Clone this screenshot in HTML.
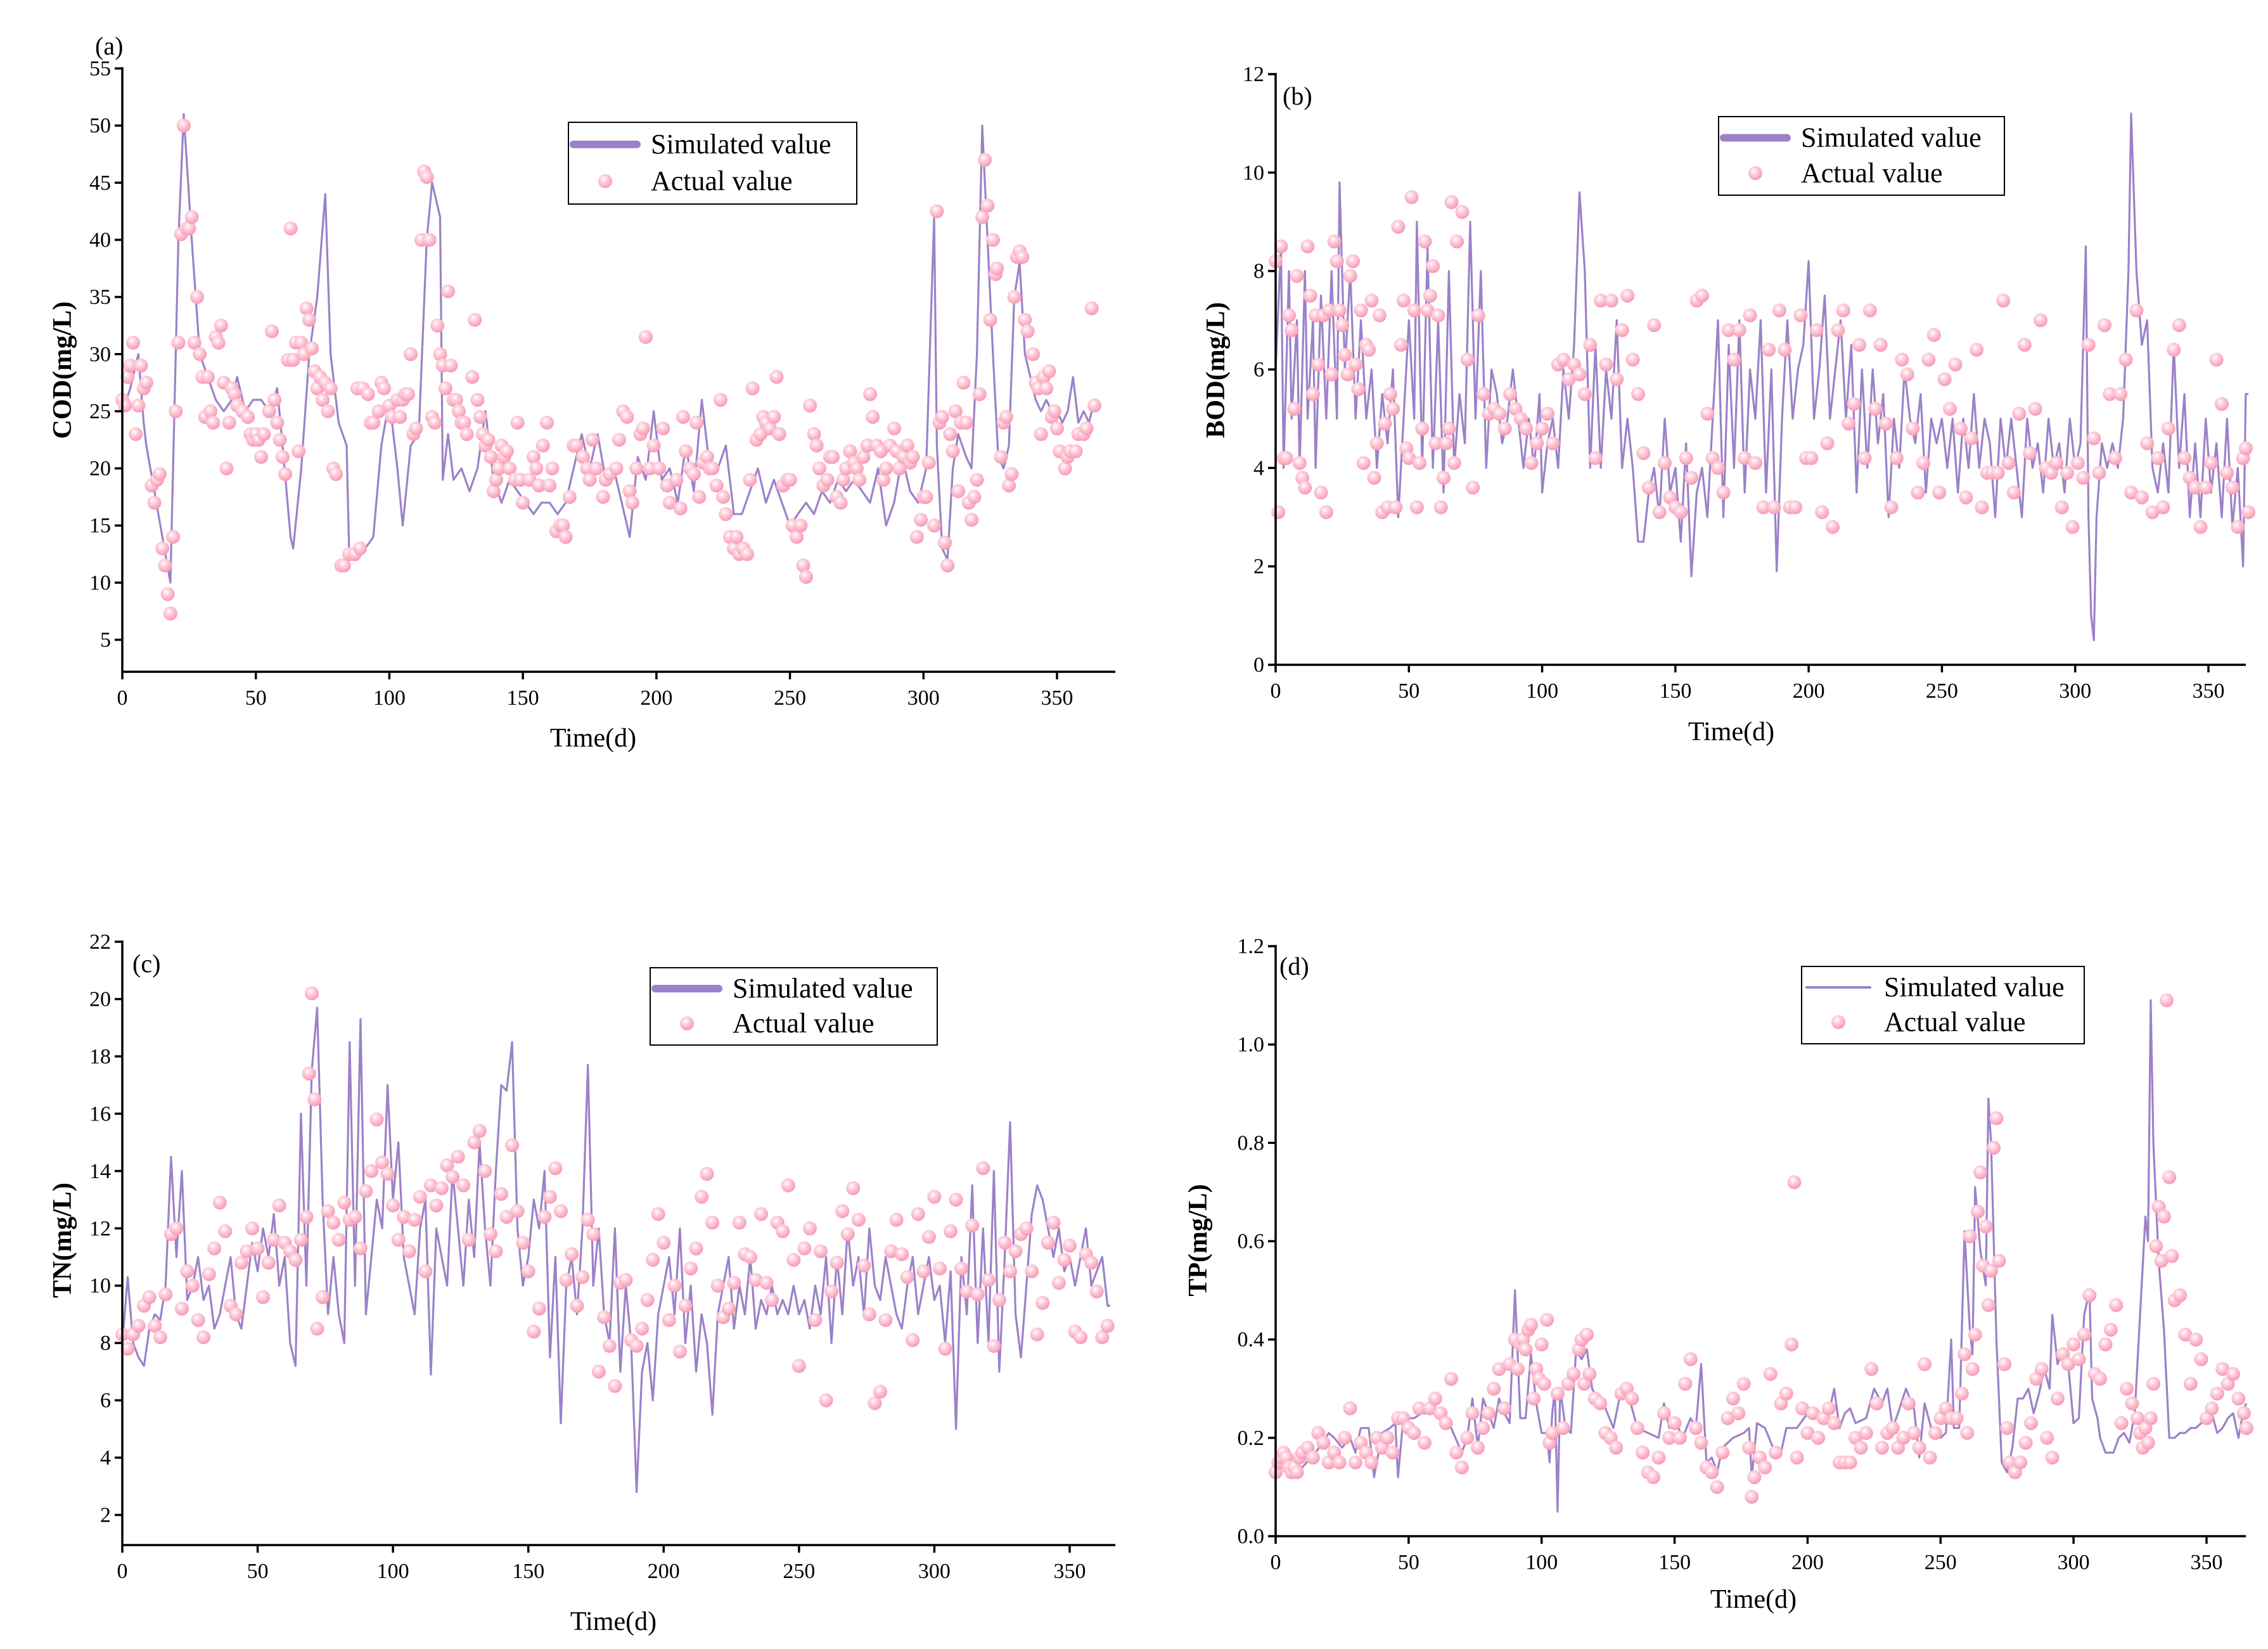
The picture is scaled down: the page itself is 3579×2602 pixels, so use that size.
<!DOCTYPE html>
<html><head><meta charset="utf-8"><style>
html,body{margin:0;padding:0;background:#fff}
svg{display:block}
text{font-family:"Liberation Serif",serif;fill:#000}
</style></head><body>
<svg id="fig" width="3579" height="2602" viewBox="0 0 3579 2602" xmlns="http://www.w3.org/2000/svg">
<defs>
<radialGradient id="pt" cx="0.4" cy="0.35" r="0.65">
<stop offset="0" stop-color="#ffffff"/><stop offset="0.35" stop-color="#ffd3df"/><stop offset="1" stop-color="#f79ab4"/>
</radialGradient>
</defs>
<rect width="3579" height="2602" fill="#fff"/>
</svg>
<script>
// ---------- Panel (a) COD ----------
const codSimDays=[0,3,6,8,9,12,15,18,21,23,26,29,32,35,38,41,43,46,49,52,55,58,60,63,64,67,70,73,76,78,81,84,85,88,91,94,97,100,103,105,108,111,114,116,119,120,122,124,127,130,133,136,139,142,145,148,151,154,157,160,163,166,169,172,175,178,181,184,187,190,193,196,199,202,205,208,211,214,217,220,223,226,229,232,235,238,241,244,247,250,253,256,259,262,265,268,271,274,277,280,283,286,289,292,295,298,301,304,305,307,309,311,313,316,318,320,322,324,326,328,330,332,334,336,338,340,342,344,346,348,350,352,354,356,358,360,362,364,365];
const codSim=[25,27,30,24,22,18,14,10,40,51,40,30,28,26,25,26,28,25,26,26,25,27,22,14,13,20,30,35,44,30,24,22,12,12,13,14,22,26,20,15,22,23,40,45,42,19,23,19,20,18,20,25,19,17,19,18,17,16,17,17,16,17,20,23,20,23,19,20,17,14,21,19,25,19,20,17,22,18,26,20,20,22,16,16,18,20,17,19,17,15,16,17,16,18,17,19,18,19,18,17,20,15,17,21,18,17,20,42,22,13,12,20,23,21,20,30,50,40,30,21,20,22,35,38,30,28,26,25,26,25,25,24,25,28,24,25,24,26,26];
const codActDays=[0,1,2,3,4,5,6,7,8,9,11,12,13,14,15,16,17,18,19,20,21,22,23,24,25,26,27,28,29,30,31,32,33,34,35,36,37,38,39,40,41,42,43,45,47,48,49,50,51,52,53,55,56,57,58,59,60,61,62,63,64,65,66,67,68,69,70,71,72,73,74,75,76,77,78,79,80,82,83,85,87,88,89,90,92,93,94,96,97,98,100,101,103,104,105,106,107,108,109,110,112,113,114,115,116,117,118,119,120,121,122,123,124,125,126,127,128,129,131,132,133,134,135,136,137,138,139,140,141,142,143,144,145,147,148,149,150,152.5,154,155,156,157.5,159,160,161,162.5,164,165,166,167.5,169,170,172.5,174,175,176,177.5,180,181,182.5,185,186,187.5,189,190,191,192.5,194,195,196,197.5,199,201,202.5,204,205,207.5,209,210,211,212.5,214,215,216,217.5,219,220,221,222.5,224,225,226,227.5,229,230,231,232.5,234,235,236,237.5,239,240,241,242.5,244,245,246,247.5,249,250,251,252.5,254,255,256,257.5,259,260,261,262.5,264,265,266,267.5,269,270,271,272.5,274,275,276,277.5,279,280,281,282.5,284,285,286,287.5,289,290,291,292.5,294,295,296,297.5,299,300,301,302,304,305,306,307,308,309,310,311,312,313,314,315,316,317,318,319,320,321,322,323,324,325,326,327,327.5,329,330,331,332,333,334,335,336,337,338,339,341,342,343,344,345,346,347,348,349,350,351,353,354,355,357,358,360,361,363,364];
const codAct=[26,25.5,28,29,31,23,25.5,29,27,27.5,18.5,17,19,19.5,13,11.5,9,7.3,14,25,31,40.5,50,41,41,42,31,35,30,28,24.5,28,25,24,31.5,31,32.5,27.5,20,24,27,26.5,25.5,25,24.5,23,22.5,23,22.5,21,23,25,32,26,24,22.5,21,19.5,29.5,41,29.5,31,21.5,31,30,34,33,30.5,28.5,27,28,26,27.5,25,27,20,19.5,11.5,11.5,12.5,12.5,27,13,27,26.5,24,24,25,27.5,27,25.5,24.5,26,24.5,26,26.5,26.5,30,23,23.5,40,46,45.5,40,24.5,24,32.5,30,29,27,35.5,29,26,26,25,24,24,23,28,33,26,24.5,23,22,22.5,21,18,19,20,22,21,21.5,20,19,24,19,17,19,21,20,18.5,22,24,18.5,20,14.5,15,15,14,17.5,22,22,21,20,19,22.5,20,17.5,19,19.5,20,22.5,25,24.5,18,17,20,23,23.5,31.5,20,22,20,23.5,18.5,17,19,16.5,24.5,21.5,20,19.5,24,17.5,20.5,21,20,20,18.5,26,17.5,16,14,13,14,12.5,13,12.5,19,27,22.5,23,24.5,24,23.5,24.5,28,23,18.5,19,19,15,14,15,11.5,10.5,25.5,23,22,20,18.5,19,21,21,17.5,17,19,20,21.5,20.5,20,19,21,22,26.5,24.5,22,21.5,19,20,22,23.5,21.5,20,21,22,20.5,21,14,15.5,17.5,17.5,20.5,15,42.5,24,24.5,13.5,11.5,23,21.5,25,18,24,27.5,24,17,15.5,17.5,19,26.5,42,47,43,33,40,37,37.5,21,24,24.5,18.5,19.5,35,38.5,39,38.5,33,32,30,27.5,27,23,28,27,28.5,24.5,25,23.5,21.5,20,21,21.5,21.5,23,23,23.5,34,25.5,29.5];
const codTicks=[5,10,15,20,25,30,35,40,45,50,55];

// ---------- Panel (b) BOD ----------
const bodSimDays=[0,2,3,5,6,8,9,11,12,14,15,17,19,21,23,24,26,28,30,32,34,36,38,40,42,44,46,48,50,52,53,55,57,59,61,63,65,67,69,71,73,75,77,79,81,83,85,87,89,91,93,95,97,99,100,102,104,106,108,110,112,114,116,118,120,122,124,126,128,130,132,134,136,138,140,142,144,146,148,150,152,154,156,158,160,162,164,166,168,170,172,174,176,178,180,182,184,186,188,190,192,194,196,198,200,202,204,206,208,210,212,214,216,218,220,222,224,226,228,230,232,234,236,238,240,242,244,246,248,250,252,254,256,258,260,262,264,266,268,270,272,274,276,278,280,282,284,286,288,290,292,294,296,298,300,302,304,305,306,307,308,310,312,314,316,318,320,321,323,325,327,329,331,333,335,337,339,341,343,345,347,349,351,353,355,357,359,361,363,364,365];
const bodSim=[6,8.5,4,8,5,7,4,8,5,7,4,7.5,5,8,5,9.8,6,8,5,7,5,6,4,5.5,4.5,6,3,5,7,5,9,4,8.5,4,7,3.5,8,4,5.5,4.5,9,5,8,4,6,5.5,4.5,5,6,5,4,5,4,5.5,3.5,4.5,5,4,6,5,6.5,9.6,8,4,6.5,4,6,5,7,4,5,4,2.5,2.5,3.5,4,3,5,3.5,4,2.5,4.5,1.8,3.5,4,3,5,7,3,6.5,4,7,3.5,6,5,7,3.5,6,1.9,5,7,5,6,6.5,8.2,5,6,7.5,5,6,7,5,6.5,3.5,6,4,6,4.5,5.5,3,5,4,6,5,4.5,5.5,3.5,5,4.5,5,4,5,3.5,5,4,5.5,4,5,4.5,3,5,4,5,4,3,5,4,4.5,3.5,5,4,4.5,3.5,5,4,4.5,8.5,3,1,0.5,3,4.5,4,4.5,4,5,8,11.2,8,6.5,7,4,3.5,4.5,3.5,6.5,4,5.5,3,4.5,3,5,3.5,4.5,3,5,2.8,4,2,5.5,5.5];
const bodActDays=[0,1,2,3,4,5,6,7,8,9,10,11,12,13,14,15,16,17,18,19,20,21,22,23,24,25,26,27,28,29,30,31,32,33,34,35,36,37,38,39,40,41,42,43,44,45,46,47,48,49,50,51,52,53,54,55,56,57,58,59,60,61,62,63,64,65,66,67,68,70,72,74,76,78,80,82,84,86,88,90,92,94,96,98,100,102,104,106,108,110,112,114,116,118,120,122,124,126,128,130,132,134,136,138,140,142,144,146,148,150,152,154,156,158,160,162,164,166,168,170,172,174,176,178,180,183,185,187,189,191,193,195,197,199,201,203,205,207,209,211,213,215,217,219,221,223,225,227,229,231,233,235,237,239,241,243,245,247,249,251,253,255,257,259,261,263,265,267,269,271,273,275,277,279,281,283,285,287,289,291,293,295,297,299,301,303,305,307,309,311,313,315,317,319,321,323,325,327,329,331,333,335,337,339,341,343,345,347,349,351,353,355,357,359,361,363,364,365];
const bodAct=[8.2,3.1,8.5,4.2,4.2,7.1,6.8,5.2,7.9,4.1,3.8,3.6,8.5,7.5,5.5,7.1,6.1,3.5,7.1,3.1,7.2,5.9,8.6,8.2,7.2,6.9,6.3,5.9,7.9,8.2,6.1,5.6,7.2,4.1,6.5,6.4,7.4,3.8,4.5,7.1,3.1,4.9,3.2,5.5,5.2,3.2,8.9,6.5,7.4,4.4,4.2,9.5,7.2,3.2,4.1,4.8,8.6,7.2,7.5,8.1,4.5,7.1,3.2,3.8,4.5,4.8,9.4,4.1,8.6,9.2,6.2,3.6,7.1,5.5,5.1,5.2,5.1,4.8,5.5,5.2,5,4.8,4.1,4.5,4.8,5.1,4.5,6.1,6.2,5.8,6.1,5.9,5.5,6.5,4.2,7.4,6.1,7.4,5.8,6.8,7.5,6.2,5.5,4.3,3.6,6.9,3.1,4.1,3.4,3.2,3.1,4.2,3.8,7.4,7.5,5.1,4.2,4.0,3.5,6.8,6.2,6.8,4.2,7.1,4.1,3.2,6.4,3.2,7.2,6.4,3.2,3.2,7.1,4.2,4.2,6.8,3.1,4.5,2.8,6.8,7.2,4.9,5.3,6.5,4.2,7.2,5.2,6.5,4.9,3.2,4.2,6.2,5.9,4.8,3.5,4.1,6.2,6.7,3.5,5.8,5.2,6.1,4.8,3.4,4.6,6.4,3.2,3.9,3.9,3.9,7.4,4.1,3.5,5.1,6.5,4.3,5.2,7.0,4.0,3.9,4.1,3.2,3.9,2.8,4.1,3.8,6.5,4.6,3.9,6.9,5.5,4.2,5.5,6.2,3.5,7.2,3.4,4.5,3.1,4.2,3.2,4.8,6.4,6.9,4.2,3.8,3.6,2.8,3.6,4.1,6.2,5.3,3.9,3.6,2.8,4.2,4.4,3.1,3.3,5.8,3.5,2.5,3.0,3.1,2.4,5.6];
const bodTicks=[0,2,4,6,8,10,12];

// ---------- Panel (c) TN ----------
const tnSimDays=[0,2,4,6,8,10,12,14,16,18,20,22,24,26,28,30,32,34,36,38,40,42,44,46,48,50,52,54,56,58,60,62,64,66,68,70,72,74,76,78,80,82,84,86,88,90,92,94,96,98,100,102,104,106,108,110,112,114,116,118,120,122,124,126,128,130,132,134,136,138,140,142,144,146,148,150,152,154,156,158,160,162,164,166,168,170,172,174,176,178,180,182,184,186,188,190,192,194,196,198,200,202,204,206,208,210,212,214,216,218,220,222,224,226,228,230,232,234,236,238,240,242,244,246,248,250,252,254,256,258,260,262,264,266,268,270,272,274,276,278,280,282,284,286,288,290,292,294,296,298,300,302,304,306,308,310,312,314,316,318,320,322,324,326,328,330,332,334,336,338,340,342,344,346,348,350,352,354,356,358,360,362,364,365];
const tnSim=[8,10.3,8,7.5,7.2,8.5,9,8.8,10,14.5,11,14,9.5,10,11,9.5,10,8.5,9,10,11,9,8.5,10,11.5,10.5,12,11,12.5,10,11,8,7.2,16,10,17.5,19.7,13,9,11,9,8,18.5,10,19.3,9,11,13,12,17,13,15,11,10,9,12,13,6.9,12,11,10,14,12,10,13,11,15,12,10,14,17,16.8,18.5,12,10,11,13,12,14,7.5,11,5.2,10,11,9,12,17.7,10,12,9,8,12,7,10,8,2.8,7,8,6,9,10,11,9,12,8,10,7,9,8,5.5,9,10,11,8.5,10,9,11,8.5,9.5,9,10,9,9.5,9,10,9,9.5,8.5,10,9,11,8,11,9,12,10,11,9,12,10,9.5,11,10,9,8.5,10,11,9,10,11,9.5,10,8,10.5,5,11,9,13.5,8,12,8,14,7,11,15.7,9,7.5,10,12.5,13.5,13,12,11,12,10.5,11,10,11,12,10,10.5,11,9.3,9.3];
const tnActDays=[0,2,4,6,8,10,12,14,16,18,20,22,24,26,28,30,32,34,36,38,40,42,44,46,48,50,52,54,56,58,60,62,64,66,68,69,70,71,72,74,76,78,80,82,84,86,88,90,92,94,96,98,100,102,104,106,108,110,112,114,116,118,120,122,124,126,128,130,132,134,136,138,140,142,144,146,148,150,152,154,156,158,160,162,164,166,168,170,172,174,176,178,180,182,184,186,188,190,192,194,196,198,200,202,204,206,208,210,212,214,216,218,220,222,224,226,228,230,232,234,236,238,240,242,244,246,248,250,252,254,256,258,260,262,264,266,268,270,272,274,276,278,280,282,284,286,288,290,292,294,296,298,300,302,304,306,308,310,312,314,316,318,320,322,324,326,328,330,332,334,336,338,340,342,344,346,348,350,352,354,356,358,360,362,364];
const tnAct=[8.3,7.8,8.3,8.6,9.3,9.6,8.6,8.2,9.7,11.8,12,9.2,10.5,10,8.8,8.2,10.4,11.3,12.9,11.9,9.3,9,10.8,11.2,12,11.3,9.6,10.8,11.6,12.8,11.5,11.2,10.9,11.6,12.4,17.4,20.2,16.5,8.5,9.6,12.6,12.2,11.6,12.9,12.3,12.4,11.3,13.3,14,15.8,14.3,13.9,12.8,11.6,12.4,11.2,12.3,13.1,10.5,13.5,12.8,13.4,14.2,13.8,14.5,13.5,11.6,15,15.4,14,11.8,11.2,13.2,12.4,14.9,12.6,11.5,10.5,8.4,9.2,12.4,13.1,14.1,12.6,10.2,11.1,9.3,10.3,12.3,11.8,7,8.9,7.9,6.5,10.1,10.2,8.1,7.9,8.5,9.5,10.9,12.5,11.5,8.8,10,7.7,9.3,10.6,11.3,13.1,13.9,12.2,10,8.9,9.2,10.1,12.2,11.1,11,10.2,12.5,10.1,9.5,12.2,11.9,13.5,10.9,7.2,11.3,12,8.8,11.2,6,9.8,10.8,12.6,11.8,13.4,12.3,10.7,9,5.9,6.3,8.8,11.2,12.3,11.1,10.3,8.1,12.5,10.5,11.7,13.1,10.6,7.8,11.9,13,10.6,9.8,12.1,9.7,14.1,10.2,7.9,9.5,11.5,10.5,11.2,11.8,12,10.5,8.3,9.4,11.5,12.2,10.1,10.9,11.4,8.4,8.2,11.1,10.8,9.8,8.2,8.6];
const tnTicks=[2,4,6,8,10,12,14,16,18,20,22];

// ---------- Panel (d) TP ----------
const tpSimDays=[0,5,10,15,20,22,25,28,30,32,35,37,40,43,45,46,48,52,55,58,61,64,66,70,72,74,76,78,82,84,86,88,90,92,94,96,98,100,102,103,104,105,106,107,109,111,113,115,117,119,121,124,127,130,133,136,140,144,146,148,150,153,156,158,160,162,164,166,168,172,176,178,179,181,184,187,190,192,196,200,204,208,210,212,214,216,218,222,225,228,230,232,234,237,240,242,244,247,250,252,254,255,257,259,261,262,263,265,267,268,269,271,273,275,277,279,281,283,285,287,289,291,292,294,296,298,300,302,304,306,307,309,310,312,315,317,319,321,323,325,327,328,329,330,332,334,336,338,340,342,344,346,348,350,352,354,356,358,360,362,364,365];
const tpSim=[0.13,0.15,0.14,0.17,0.21,0.2,0.18,0.2,0.17,0.22,0.22,0.12,0.21,0.22,0.23,0.12,0.24,0.24,0.25,0.25,0.25,0.23,0.22,0.17,0.2,0.28,0.18,0.28,0.22,0.28,0.25,0.23,0.5,0.24,0.24,0.37,0.27,0.21,0.21,0.15,0.25,0.3,0.05,0.3,0.22,0.21,0.38,0.36,0.38,0.3,0.28,0.26,0.22,0.3,0.28,0.22,0.21,0.2,0.27,0.22,0.24,0.2,0.24,0.22,0.35,0.15,0.16,0.13,0.18,0.2,0.21,0.22,0.12,0.23,0.22,0.18,0.17,0.22,0.22,0.25,0.24,0.25,0.3,0.22,0.25,0.26,0.23,0.24,0.3,0.27,0.3,0.22,0.25,0.3,0.26,0.16,0.27,0.21,0.2,0.21,0.4,0.22,0.22,0.62,0.42,0.37,0.71,0.58,0.51,0.89,0.8,0.4,0.15,0.13,0.18,0.28,0.28,0.3,0.25,0.29,0.34,0.3,0.45,0.35,0.38,0.35,0.23,0.24,0.45,0.5,0.28,0.24,0.2,0.17,0.17,0.2,0.21,0.19,0.25,0.45,0.65,0.6,1.09,0.8,0.56,0.42,0.2,0.2,0.21,0.21,0.22,0.22,0.23,0.24,0.25,0.21,0.22,0.24,0.25,0.2,0.26,0.27];
const tpActDays=[0,1,2,3,4,5,6,7,8,9,10,12,14,16,18,20,22,24,26,28,30,32,34,36,38,40,42,44,46,48,50,52,54,56,58,60,62,64,66,68,70,72,74,76,78,80,82,84,86,88,90,91,92,93,94,95,96,97,98,99,100,101,102,103,104,106,108,110,112,114,115,116,117,118,120,122,124,126,128,130,132,134,136,138,140,142,144,146,148,150,152,154,156,158,160,162,164,166,168,170,172,174,176,178,179,180,182,184,186,188,190,192,194,195,196,198,200,202,204,206,208,210,212,214,216,218,220,222,224,226,228,230,232,234,236,238,240,242,244,246,248,250,252,254,256,258,259,260,261,262,263,264,265,266,267,268,269,270,271,272,274,275,276,278,280,282,284,286,288,290,292,294,296,298,300,302,304,306,308,310,312,314,316,318,320,322,324,325,326,327,328,329,330,331,332,333,334,335,336,337,338,340,342,344,346,348,350,352,354,356,358,360,362,364,365];
const tpAct=[0.13,0.15,0.16,0.17,0.16,0.14,0.13,0.14,0.13,0.16,0.17,0.18,0.16,0.21,0.19,0.15,0.17,0.15,0.2,0.26,0.15,0.19,0.17,0.15,0.2,0.18,0.2,0.17,0.24,0.24,0.22,0.21,0.26,0.19,0.26,0.28,0.25,0.23,0.32,0.17,0.14,0.2,0.25,0.18,0.22,0.25,0.3,0.34,0.26,0.35,0.4,0.34,0.39,0.4,0.38,0.42,0.43,0.28,0.34,0.32,0.39,0.31,0.44,0.19,0.21,0.29,0.22,0.31,0.33,0.38,0.4,0.31,0.41,0.33,0.28,0.27,0.21,0.2,0.18,0.29,0.3,0.28,0.22,0.17,0.13,0.12,0.16,0.25,0.2,0.23,0.2,0.31,0.36,0.22,0.19,0.14,0.13,0.1,0.17,0.24,0.28,0.25,0.31,0.18,0.08,0.12,0.16,0.14,0.33,0.17,0.27,0.29,0.39,0.72,0.16,0.26,0.21,0.25,0.2,0.24,0.26,0.23,0.15,0.15,0.15,0.2,0.18,0.21,0.34,0.27,0.18,0.21,0.22,0.18,0.2,0.27,0.21,0.18,0.35,0.16,0.21,0.24,0.26,0.24,0.24,0.29,0.37,0.21,0.61,0.34,0.41,0.66,0.74,0.55,0.63,0.47,0.54,0.79,0.85,0.56,0.35,0.22,0.15,0.13,0.15,0.19,0.23,0.32,0.34,0.2,0.16,0.28,0.37,0.35,0.39,0.36,0.41,0.49,0.33,0.32,0.39,0.42,0.47,0.23,0.3,0.27,0.24,0.21,0.18,0.22,0.19,0.24,0.31,0.59,0.67,0.56,0.65,1.09,0.73,0.57,0.48,0.49,0.41,0.31,0.4,0.36,0.24,0.26,0.29,0.34,0.31,0.33,0.28,0.25,0.22,0.21,0.21,0.2,0.21,0.21,0.2,0.24,0.29];
const tpTicks=[0.0,0.2,0.4,0.6,0.8,1.0,1.2];
const xTicks=[0,50,100,150,200,250,300,350];

const NS='http://www.w3.org/2000/svg';
const fig=document.getElementById('fig');
function mk(tag,attrs,parent){const e=document.createElementNS(NS,tag);for(const k in attrs)e.setAttribute(k,attrs[k]);(parent||fig).appendChild(e);return e;}

function panel(p){
  const g=mk('g',{});
  
  
  const sx=v=>p.x0+(v-0)*(p.x1-p.x0)/(p.xmax);
  const sy=v=>p.yb-(v-p.ymin)*(p.yb-p.yt)/(p.ymax-p.ymin);
  let d='';
  p.simDays.forEach((t,i)=>{d+=(i?'L':'M')+sx(t).toFixed(1)+','+sy(p.sim[i]).toFixed(1);});
  const ln=mk('path',{d:d,fill:'none',stroke:'#9b82c8','stroke-width':3.2,'stroke-linejoin':'round'},g);
  
  
  const pg=mk('g',{},g);
  
  
  p.actDays.forEach((t,i)=>{
    const c=mk('circle',{cx:sx(t).toFixed(1),cy:sy(p.act[i]).toFixed(1),r:11,fill:'url(#pt)'},pg);
    
    
  });
  const ax=mk('g',{stroke:'#000','stroke-width':3.5},g);
  
  
  mk('line',{x1:p.x0,y1:p.yt-2,x2:p.x0,y2:p.yb},ax);
  mk('line',{x1:p.x0,y1:p.yb,x2:p.x1end,y2:p.yb},ax);
  p.yTicks.forEach(v=>{
    const y=sy(v);
    mk('line',{x1:p.x0-12,y1:y,x2:p.x0,y2:y},ax);
    const t=mk('text',{x:p.x0-18,y:y+11,'text-anchor':'end','font-size':34},g);
    t.textContent=p.fmt(v);
    
    
  });
  xTicks.forEach(v=>{
    const x=sx(v);
    mk('line',{x1:x,y1:p.yb,x2:x,y2:p.yb+12},ax);
    const t=mk('text',{x:x,y:p.yb+52,'text-anchor':'middle','font-size':34},g);
    t.textContent=v;
    
    
  });
  const xt=mk('text',{x:p.xtx,y:p.xty,'text-anchor':'middle','font-size':42},g);
  xt.textContent='Time(d)';
  
  
  const yt=mk('text',{x:0,y:0,'text-anchor':'middle','font-size':42,'font-weight':'bold',transform:'translate('+p.ytx+','+p.yty+') rotate(-90)'},g);
  yt.textContent=p.ytitle;
  
  
  const pl=mk('text',{x:p.lx,y:p.ly,'font-size':40},g);
  pl.textContent=p.label;
  
  
  const L=p.leg;
  const lg=mk('g',{},g);
  
  
  mk('rect',{x:L[0],y:L[1],width:L[2],height:L[3],fill:'#fff',stroke:'#000','stroke-width':2},lg);
  mk('line',{x1:L[0]+8,y1:L[1]+L[3]*0.27,x2:L[0]+108,y2:L[1]+L[3]*0.27,stroke:'#9b82c8','stroke-width':p.legW,'stroke-linecap':'round'},lg);
  mk('circle',{cx:L[0]+58,cy:L[1]+L[3]*0.72,r:11,fill:'url(#pt)'},lg);
  const t1=mk('text',{x:L[0]+130,y:L[1]+L[3]*0.27+14,'font-size':44},lg);
  t1.textContent='Simulated value';
  
  
  const t2=mk('text',{x:L[0]+130,y:L[1]+L[3]*0.72+14,'font-size':44},lg);
  t2.textContent='Actual value';
  
  
}

panel({id:'cod',x0:193,x1:193+(1668-193)*372/350,xmax:372,x1end:1760,yt:108,yb:1060,ymin:2.2,ymax:55,
  simDays:codSimDays,sim:codSim,actDays:codActDays,act:codAct,yTicks:codTicks,fmt:v=>v,
  xtx:936,xty:1178,ytx:112,yty:584,ytitle:'COD(mg/L)',label:'(a)',lx:150,ly:86,leg:[897,193,455,129],legW:12});
panel({id:'bod',x0:2013,x1:2013+(3485-2013)*365/350,xmax:365,x1end:3544,yt:117,yb:1049,ymin:0,ymax:12,
  simDays:bodSimDays,sim:bodSim,actDays:bodActDays,act:bodAct,yTicks:bodTicks,fmt:v=>v,
  xtx:2732,xty:1168,ytx:1932,yty:584,ytitle:'BOD(mg/L)',label:'(b)',lx:2024,ly:165,leg:[2712,184,451,124],legW:12});
panel({id:'tn',x0:193,x1:193+(1688-193)*367/350,xmax:367,x1end:1760,yt:1486,yb:2438,ymin:0.95,ymax:22,
  simDays:tnSimDays,sim:tnSim,actDays:tnActDays,act:tnAct,yTicks:tnTicks,fmt:v=>v,
  xtx:968,xty:2572,ytx:112,yty:1957,ytitle:'TN(mg/L)',label:'(c)',lx:209,ly:1534,leg:[1026,1527,453,122],legW:12});
panel({id:'tp',x0:2013,x1:2013+(3482-2013)*365/350,xmax:365,x1end:3544,yt:1493,yb:2424,ymin:0,ymax:1.2,
  simDays:tpSimDays,sim:tpSim,actDays:tpActDays,act:tpAct,yTicks:tpTicks,fmt:v=>v.toFixed(1),
  xtx:2767,xty:2537,ytx:1904,yty:1957,ytitle:'TP(mg/L)',label:'(d)',lx:2019,ly:1538,leg:[2843,1525,446,122],legW:4});
</script>
</body></html>
